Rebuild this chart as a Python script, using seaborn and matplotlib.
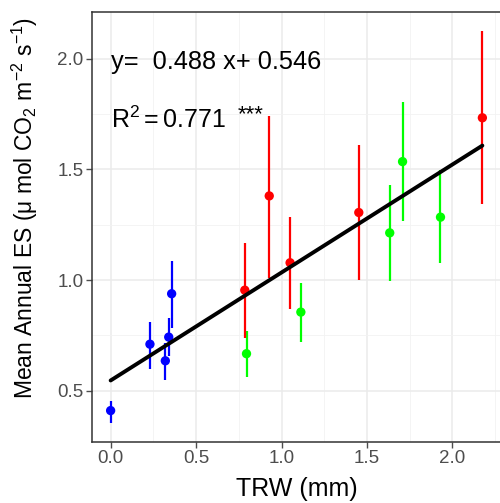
import numpy as np
import pandas as pd
import matplotlib
matplotlib.use("Agg")
import matplotlib.pyplot as plt
import seaborn as sns

# ---- data ----
trw = [0.0, 0.23, 0.32, 0.34, 0.357,
       0.785, 0.928, 1.05, 1.452, 2.175,
       0.795, 1.113, 1.633, 1.708, 1.93]
es = [0.41, 0.71, 0.635, 0.742, 0.938,
      0.954, 1.38, 1.078, 1.305, 1.733,
      0.667, 0.855, 1.213, 1.535, 1.284]
es_low = [0.356, 0.60, 0.55, 0.655, 0.785,
          0.737, 1.008, 0.868, 1.0, 1.345,
          0.56, 0.72, 0.995, 1.266, 1.078]
es_high = [0.455, 0.81, 0.715, 0.83, 1.087,
           1.168, 1.743, 1.285, 1.608, 2.123,
           0.77, 0.988, 1.43, 1.806, 1.496]
group = ["blue"] * 5 + ["red"] * 5 + ["green"] * 5
palette = {"blue": "#0000FF", "red": "#FF0000", "green": "#00FF00"}
slope, intercept = 0.488, 0.546
eq_text = "y=  0.488 x+ 0.546"
r2_text = r"R$^2$$=$0.771"
sig_text = "***"
x_ticks = [0.0, 0.5, 1.0, 1.5, 2.0]
y_ticks = [0.5, 1.0, 1.5, 2.0]

df = pd.DataFrame({"trw": trw, "es": es, "lo": es_low, "hi": es_high, "g": group})
fit_x = np.array([min(trw), max(trw)])
fit = pd.DataFrame({"trw": fit_x, "es": intercept + slope * fit_x})

sns.set_theme(style="white")
plt.rcParams["font.family"] = ["Liberation Sans", "DejaVu Sans"]
plt.rcParams["mathtext.fontset"] = "custom"
plt.rcParams["mathtext.rm"] = "Liberation Sans"
plt.rcParams["mathtext.it"] = "Liberation Sans:italic"
plt.rcParams["mathtext.default"] = "regular"

fig = plt.figure(figsize=(5.0, 5.03), dpi=100)
ax = fig.add_axes([92 / 500, 61 / 503, 409 / 500, 430 / 503])

# grid
ax.set_axisbelow(True)
ax.set_xticks(x_ticks)
ax.set_yticks(y_ticks)
ax.set_xticks([0.25, 0.75, 1.25, 1.75, 2.25], minor=True)
ax.set_yticks([0.75, 1.25, 1.75], minor=True)
ax.grid(True, which="major", color="#EBEBEB", linewidth=1.1)
ax.grid(True, which="minor", color="#F2F2F2", linewidth=0.6)

# error bars
for gname, sub in df.groupby("g"):
    ax.vlines(sub["trw"], sub["lo"], sub["hi"], color=palette[gname], linewidth=1.6, zorder=2)

sns.scatterplot(data=df, x="trw", y="es", hue="g", palette=palette, s=45,
                edgecolor="none", legend=False, ax=ax, zorder=3)
sns.lineplot(data=fit, x="trw", y="es", color="black", linewidth=2.8, ax=ax, zorder=4)

ax.set_xlim(-0.109, 2.284)
ax.set_ylim(0.268, 2.211)

ax.text(0.0, 1.955, eq_text, fontsize=18.3, ha="left", va="baseline", color="black")
ax.text(0.0, 1.685, r2_text, fontsize=18, ha="left", va="baseline", color="black")
ax.text(0.745, 1.72, sig_text, fontsize=16, ha="left", va="baseline", color="black")

ax.set_xlabel("TRW (mm)", fontsize=18, color="black", labelpad=7)
ax.set_ylabel(r"Mean Annual ES ($\mathrm{\mu}$ mol CO$_2$ m$^{-2}$ s$^{-1}$)",
              fontsize=16.5, color="black")
ax.yaxis.set_label_coords(-0.128, 0.544)
ax.tick_params(axis="both", which="major", labelsize=13.5, colors="#4D4D4D",
               length=4, width=1, direction="out", bottom=True, left=True, pad=2)
ax.tick_params(axis="both", which="minor", length=0)
ax.xaxis.set_major_formatter(matplotlib.ticker.FormatStrFormatter("%.1f"))
ax.yaxis.set_major_formatter(matplotlib.ticker.FormatStrFormatter("%.1f"))
for t in ax.get_xticklines() + ax.get_yticklines():
    t.set_color("#333333")
for s in ax.spines.values():
    s.set_color("#333333")
    s.set_linewidth(1.1)

fig.savefig("out.png", dpi=100)
